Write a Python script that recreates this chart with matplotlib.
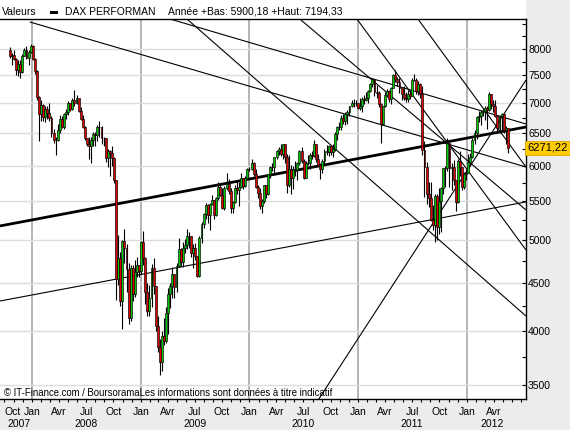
import numpy as np
import pandas as pd
import matplotlib
matplotlib.use('Agg')
import matplotlib.pyplot as plt
import matplotlib.dates as mdates
import matplotlib.transforms as mtransforms
from matplotlib.ticker import FixedLocator, FuncFormatter, NullFormatter
from matplotlib.patches import Rectangle

plt.rcParams['font.family'] = ['Liberation Sans', 'DejaVu Sans']

# weekly DAX candles, Fridays 19 Oct 2007 -> 18 May 2012
weeks = pd.date_range('2007-10-19', '2012-05-18', freq='W-FRI')
first_open = 7990

close_2007 = [7859, 7880, 7813, 7590, 7710, 7560, 7871, 7990, 7830, 7950, 8067]
high_2007 = [8030, 7920, 7990, 7830, 7780, 7780, 7900, 8010, 8050, 7980, 8100]
low_2007 = [7830, 7690, 7780, 7500, 7480, 7450, 7540, 7860, 7800, 7700, 7920]

close_2008 = [7808, 7570, 7110, 6817, 6970, 6770, 6900, 6830, 6750, 6510, 6400, 6390, 6560,
              6740, 6600, 6810, 6850, 7000, 6900, 7060, 7000, 7100, 6860, 6740, 6600, 6420,
              6330, 6300, 6400, 6490, 6480, 6610, 6600, 6420, 6420, 6120, 6220, 6190, 6120,
              5800, 4540, 4780, 4300, 4990, 4900, 4650, 4130, 4670, 4380, 4620, 4700, 4630]
high_2008 = [8070, 7830, 7600, 7130, 7050, 6990, 6960, 6950, 7000, 6780, 6570, 6450, 6650,
             6800, 6790, 6830, 6900, 7040, 7000, 7100, 7240, 7150, 7100, 6930, 6800, 6620,
             6430, 6450, 6450, 6530, 6520, 6640, 6700, 6620, 6450, 6420, 6250, 6240, 6300,
             6130, 5800, 5060, 4850, 5000, 5140, 4950, 4730, 4700, 4700, 4760, 4790, 4700]
low_2008 = [7780, 7520, 7050, 6380, 6700, 6700, 6680, 6740, 6700, 6450, 6350, 6170, 6380,
            6500, 6590, 6570, 6740, 6800, 6860, 6880, 6960, 6980, 6850, 6710, 6580, 6390,
            6300, 6100, 6050, 6300, 6300, 6380, 6450, 6330, 6300, 6060, 5990, 5860, 6000,
            5750, 4310, 4480, 4250, 4014, 4720, 4400, 4070, 4100, 4300, 4350, 4560, 4560]

close_2009 = [4980, 4780, 4400, 4200, 4340, 4670, 4460, 4050, 3840, 3700, 3950, 3900, 4180,
              4380, 4470, 4600, 4450, 4690, 4890, 4740, 4900, 4940, 5050, 5050, 4840, 4900,
              4810, 4580, 5020, 5200, 5330, 5450, 5320, 5460, 5520, 5320, 5550, 5700, 5580,
              5410, 5680, 5740, 5640, 5410, 5490, 5680, 5660, 5690, 5820, 5710, 5830, 5960]
high_2009 = [4990, 5110, 4800, 4500, 4480, 4710, 4780, 4460, 4150, 3920, 4000, 4130, 4240,
             4440, 4500, 4680, 4600, 4720, 5030, 4900, 4980, 5010, 5140, 5100, 5050, 4950,
             4960, 4810, 5050, 5230, 5350, 5470, 5460, 5480, 5590, 5520, 5560, 5760, 5740,
             5680, 5710, 5890, 5810, 5680, 5510, 5730, 5800, 5760, 5900, 5820, 5850, 5970]
low_2009 = [4600, 4700, 4270, 4150, 4150, 4240, 4380, 4000, 3800, 3590, 3620, 3860, 3880,
            3970, 4230, 4340, 4340, 4400, 4680, 4690, 4680, 4840, 4890, 4900, 4800, 4670,
            4760, 4570, 4560, 4960, 5150, 5260, 5220, 5130, 5450, 5260, 5300, 5520, 5570,
            5390, 5380, 5660, 5600, 5340, 5350, 5480, 5600, 5440, 5680, 5670, 5690, 5830]

close_2010 = [5957, 6040, 5880, 5700, 5610, 5430, 5500, 5720, 5600, 5880, 5990, 5980, 6130,
              6230, 6250, 6180, 6330, 6140, 5720, 5950, 5830, 5950, 5940, 6050, 6220, 6070,
              5830, 6050, 6040, 6170, 6150, 6340, 6110, 6010, 5950, 6080, 6230, 6210, 6300,
              6210, 6250, 6490, 6610, 6600, 6750, 6700, 6820, 6850, 6950, 7010, 7000, 7010, 6914]
high_2010 = [5990, 6110, 6060, 5950, 5730, 5680, 5530, 5730, 5720, 5880, 6000, 6040, 6140,
             6240, 6280, 6340, 6340, 6340, 6180, 6170, 6010, 6000, 6070, 6060, 6240, 6280,
             6110, 6070, 6170, 6200, 6230, 6390, 6340, 6180, 6040, 6110, 6250, 6310, 6310,
             6310, 6330, 6520, 6620, 6680, 6800, 6810, 6850, 6880, 6960, 7050, 7080, 7060, 7010]
low_2010 = [5930, 5940, 5860, 5680, 5540, 5400, 5340, 5470, 5550, 5580, 5830, 5930, 5900,
            6110, 6170, 6150, 6110, 6050, 5610, 5700, 5600, 5670, 5850, 5800, 6020, 6050,
            5810, 5830, 6010, 5960, 6110, 6140, 6060, 6000, 5810, 5900, 6010, 6170, 6150,
            6170, 6130, 6230, 6400, 6560, 6550, 6650, 6630, 6650, 6780, 6930, 6940, 6960, 6900]

close_2011 = [6950, 7080, 7060, 7100, 7220, 7340, 7430, 7190, 7180, 6980, 6660, 6950, 7150,
              7220, 7070, 7270, 7510, 7430, 7370, 7270, 7160, 7100, 7070, 7160, 7120, 7420,
              7420, 7220, 7340, 7160, 6240, 5990, 5600, 5540, 5250, 5190, 5570, 5160, 5500,
              5680, 5970, 5970, 6350, 5970, 5990, 5800, 5490, 6080, 5990, 5700, 5880, 5900]
high_2011 = [7090, 7110, 7150, 7200, 7230, 7360, 7440, 7430, 7320, 7220, 7000, 6960, 7200,
             7250, 7230, 7290, 7520, 7600, 7470, 7440, 7290, 7310, 7200, 7240, 7230, 7440,
             7530, 7440, 7400, 7350, 7300, 6380, 6060, 5770, 5770, 5450, 5600, 5600, 5680,
             5700, 5970, 6000, 6430, 6350, 6050, 6090, 5800, 6110, 6220, 5990, 5910, 5960]
low_2011 = [6890, 6850, 6990, 7040, 7000, 7190, 7280, 7120, 7100, 6930, 6350, 6640, 6930,
            7110, 7030, 6990, 7270, 7380, 7310, 7180, 7060, 7060, 7030, 7030, 7080, 7120,
            7390, 7170, 7150, 7100, 6170, 5560, 5460, 5420, 5240, 5120, 4970, 5000, 5080,
            5100, 5600, 5700, 5930, 5700, 5650, 5730, 5370, 5480, 5860, 5650, 5670, 5800]

close_2012 = [6060, 6140, 6400, 6510, 6770, 6790, 6850, 6860, 6920, 6880, 7160, 6990, 6950,
              6780, 6580, 6780, 6810, 6560, 6580, 6271]
high_2012 = [6180, 6200, 6420, 6550, 6780, 6860, 6880, 6910, 6960, 6950, 7194, 7160, 7060,
             7060, 6790, 6800, 6840, 6830, 6620, 6590]
low_2012 = [5900, 6000, 6120, 6330, 6410, 6680, 6640, 6780, 6720, 6570, 6860, 6900, 6850,
            6760, 6500, 6500, 6560, 6500, 6330, 6200]

# trend lines drawn on the chart (start date, start level, end date, end level, width)
tl_start = ['2007-09-16', '2007-09-16', '2009-04-09', '2007-12-25', '2009-06-05',
            '2010-06-19', '2010-12-28', '2011-07-21', '2010-08-22']
tl_start_val = [5176, 4303, 8613, 8550, 8613, 8613, 8613, 8613, 3381]
tl_end = ['2012-07-18'] * 9
tl_end_val = [6603, 5491, 6652, 5984, 4147, 5383, 4878, 5984, 7413]
tl_width = [2.0, 0.8, 0.8, 0.8, 0.8, 0.8, 0.8, 0.8, 0.8]

price_ticks = [3500, 4000, 4500, 5000, 5500, 6000, 6500, 7000, 7500, 8000]
minor_ticks = [3750, 4250, 4750, 5250, 5750, 6250, 6750, 7250, 7750, 8250, 8500]
month_names = {1: 'Jan', 4: 'Avr', 7: 'Jul', 10: 'Oct'}
quarter_ticks = pd.date_range('2007-10-01', '2012-04-01', freq='QS-JAN')
year_labels = ['2007', '2008', '2009', '2010', '2011', '2012']
year_label_dates = ['2007-11-18', '2008-07-01', '2009-07-01', '2010-07-01', '2011-07-01', '2012-03-25']
last_price = 6271.22

close = np.array(close_2007 + close_2008 + close_2009 + close_2010 + close_2011 + close_2012, float)
high = np.array(high_2007 + high_2008 + high_2009 + high_2010 + high_2011 + high_2012, float)
low = np.array(low_2007 + low_2008 + low_2009 + low_2010 + low_2011 + low_2012, float)
opn = np.concatenate([[first_open], close[:-1]])
xs = mdates.date2num(weeks.to_pydatetime())

fig = plt.figure(figsize=(5.7, 4.3), dpi=100, facecolor='#ececec')
ax = fig.add_axes([0, 31 / 430, 526 / 570, 380 / 430])
ax.set_facecolor('white')
fig.add_artist(Rectangle((0, 411 / 430), 526 / 570, 19 / 430, transform=fig.transFigure,
                         facecolor='white', edgecolor='none', zorder=0))

ax.set_yscale('log')
ax.set_xlim(mdates.datestr2num('2007-09-16'), mdates.datestr2num('2012-07-18'))
ax.set_ylim(3381, 8613)

# grid
ax.yaxis.set_major_locator(FixedLocator(price_ticks))
ax.yaxis.set_minor_locator(FixedLocator(minor_ticks))
ax.yaxis.set_major_formatter(FuncFormatter(lambda v, p: '%d' % v))
ax.yaxis.set_minor_formatter(NullFormatter())
ax.grid(True, axis='y', which='major', color='#dcdcdc', lw=1.0, zorder=0)
for d in pd.date_range('2008-01-01', '2012-01-01', freq='YS'):
    ax.axvline(mdates.date2num(d), color='#a8a8a8', lw=1.2, zorder=0)

# trend lines
for d0, v0, d1, v1, w in zip(tl_start, tl_start_val, tl_end, tl_end_val, tl_width):
    ax.plot([mdates.datestr2num(d0), mdates.datestr2num(d1)], [v0, v1],
            color='black', lw=w, zorder=2, solid_capstyle='butt')

# candles
up = close >= opn
bot = np.minimum(opn, close)
hgt = np.abs(close - opn)
ax.vlines(xs, low, high, color='black', lw=0.8, zorder=3)
ax.bar(xs[up], hgt[up], bottom=bot[up], width=6.5, color='#00c800', edgecolor='black',
       linewidth=0.45, zorder=4)
ax.bar(xs[~up], hgt[~up], bottom=bot[~up], width=6.5, color='#e00000', edgecolor='black',
       linewidth=0.45, zorder=4)

# axes styling
ax.yaxis.tick_right()
ax.tick_params(axis='y', which='both', direction='in', length=3, width=0.8, pad=1.5,
               labelsize=7.5, right=True, left=False)
ax.xaxis.set_major_locator(FixedLocator(mdates.date2num(quarter_ticks.to_pydatetime())))
ax.xaxis.set_minor_locator(mdates.MonthLocator())
ax.xaxis.set_major_formatter(FuncFormatter(lambda v, p: month_names[mdates.num2date(v).month]))
ax.tick_params(axis='x', which='both', direction='out', length=2.5, width=0.8, pad=3,
               labelsize=7.5)
ax.xaxis.get_major_ticks()[0].label1.set_horizontalalignment('left')
ax.spines['left'].set_visible(False)
for s in ['top', 'right', 'bottom']:
    ax.spines[s].set_linewidth(1.0)

trans = mtransforms.blended_transform_factory(ax.transData, ax.transAxes)
for lab, d in zip(year_labels, year_label_dates):
    ax.text(mdates.datestr2num(d), -0.066, lab, transform=trans, ha='center', va='center',
            fontsize=7.5, clip_on=False)

# last price tag
trans_y = mtransforms.blended_transform_factory(ax.transAxes, ax.transData)
ax.text(1.003, last_price, '6271,22', transform=trans_y, ha='left', va='center', fontsize=8,
        bbox=dict(boxstyle='square,pad=0.2', facecolor='#ffcc00', edgecolor='#d9a800', lw=0.6),
        zorder=6, clip_on=False)

ax.text(0.008, 0.016, '© IT-Finance.com / BoursoramaLes informations sont données à titre indicatif',
        transform=ax.transAxes, fontsize=6.9, va='center', ha='left', zorder=5)

# header
fig.text(2 / 570, 1 - 12 / 430, 'Valeurs', fontsize=7.5, va='center')
fig.add_artist(Rectangle((50 / 570, 1 - 14 / 430), 8 / 570, 3 / 430, transform=fig.transFigure,
                         facecolor='black', edgecolor='none'))
fig.text(65 / 570, 1 - 12 / 430, 'DAX PERFORMAN', fontsize=7.5, va='center')
fig.text(168 / 570, 1 - 12 / 430, 'Année +Bas: 5900,18 +Haut: 7194,33', fontsize=7.5, va='center')

fig.savefig('out.png', dpi=100, facecolor=fig.get_facecolor())
